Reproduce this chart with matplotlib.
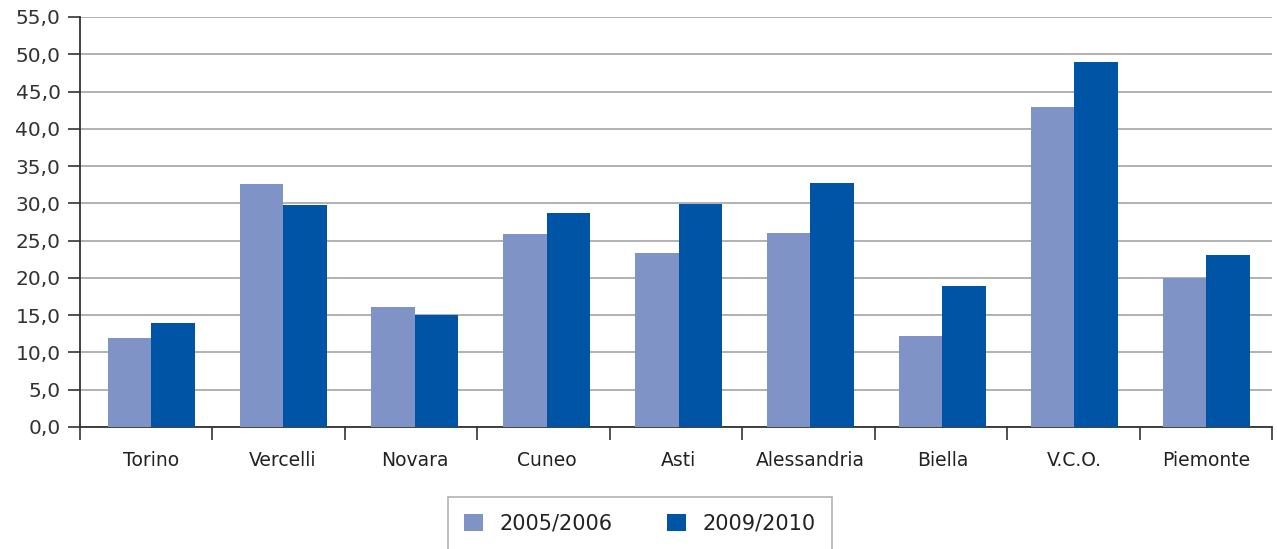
import numpy as np
import matplotlib.pyplot as plt

categories = ['Torino', 'Vercelli', 'Novara', 'Cuneo', 'Asti', 'Alessandria', 'Biella', 'V.C.O.', 'Piemonte']
vals_2005 = [12.0, 32.6, 16.1, 25.9, 23.3, 26.0, 12.2, 42.9, 20.0]
vals_2009 = [14.0, 29.8, 15.0, 28.7, 29.9, 32.7, 18.9, 49.0, 23.1]
series_labels = ['2005/2006', '2009/2010']
yticks = np.arange(0, 56, 5)

fig = plt.figure(figsize=(12.77, 5.49), dpi=100)
ax = fig.add_axes([80 / 1277, 122 / 549, (1272 - 80) / 1277, (427 - 17) / 549])

x = np.arange(len(categories))
w = 0.33
ax.bar(x - w / 2, vals_2005, w, color='#8093c6', label=series_labels[0], zorder=3)
ax.bar(x + w / 2, vals_2009, w, color='#0054a6', label=series_labels[1], zorder=3)

x0, x1 = -0.54, len(categories) - 0.5
ax.set_xlim(x0, x1)
ax.set_ylim(0, 55)
ax.set_yticks(yticks)
ax.set_yticklabels([f'{v:.1f}'.replace('.', ',') for v in yticks], fontsize=14.5, color='#333333')
ax.yaxis.grid(True, color='#ababab', linewidth=1.3, zorder=0)
ax.set_axisbelow(True)

ax.set_xticks(x)
ax.set_xticklabels(categories, fontsize=13.5, color='#222222')
ax.set_xticks(np.linspace(x0, x1, len(categories) + 1), minor=True)
ax.tick_params(axis='x', which='major', length=0, pad=17)
ax.tick_params(axis='x', which='minor', length=9, direction='out', color='#333333', width=1.2)
ax.tick_params(axis='y', length=9, direction='out', color='#333333', width=1.2, pad=5)

for s in ['top', 'right']:
    ax.spines[s].set_visible(False)
for s in ['left', 'bottom']:
    ax.spines[s].set_color('#333333')
    ax.spines[s].set_linewidth(1.3)

leg = fig.legend(loc='upper center', bbox_to_anchor=(640 / 1277, 1 - 497 / 549), ncol=2,
                 fontsize=15, frameon=True, fancybox=False, edgecolor='#a0a0a0',
                 handlelength=0.9, handleheight=0.9, columnspacing=2.6, borderpad=0.8,
                 handletextpad=0.8, borderaxespad=0)
leg.get_frame().set_linewidth(1.2)
for t in leg.get_texts():
    t.set_color('#222222')

fig.savefig('out.png', dpi=100)
